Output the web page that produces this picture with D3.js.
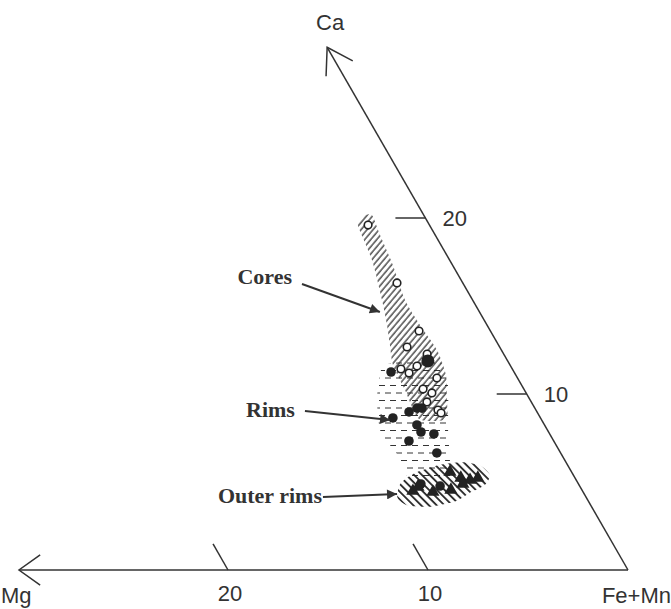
<!DOCTYPE html>
<html>
<head>
<meta charset="utf-8">
<script src="https://cdnjs.cloudflare.com/ajax/libs/d3/7.8.5/d3.min.js"></script>
<style>
  body { margin: 0; background: #fff; }
</style>
</head>
<body>
<div class="canva"></div>
<script>
// data in [Mg, Ca] units
const cores = [[3.07,19.60],[3.29,16.31],[3.57,13.58],[4.63,12.67],[3.83,12.27],[4.68,11.59],
  [5.57,11.42],[5.28,11.19],[4.03,10.91],[5.04,10.28],[4.71,10.06],[5.22,9.55],[4.90,9.09],[4.83,8.92]]
const rims = [[6.15,11.25],[6.40,8.98],[5.89,9.20],[5.64,9.20],[7.38,8.64],[6.38,8.24],
  [6.38,7.84],[5.79,7.73],[7.24,7.33],[6.19,6.65]]
const rimBig = [[3.99,11.88]]
const outerTri = [[8.48,4.49],[8.11,4.72],[7.51,4.43],[6.55,4.55],[6.08,5.57],[5.71,5.23],
  [5.31,5.11],[4.86,5.23],[5.78,4.89]]
const outerDot = [[7.88,4.89],[6.98,4.77]]

// field outlines
const coreField = [[3.14,20.06],[2.59,20.17],[2.76,19.03],[2.98,17.33],[3.38,15.34],[3.35,13.92],
  [3.22,12.5],[3.49,11.08],[4.16,9.66],[4.68,8.64],[5.36,8.47],[6.13,8.64],[5.97,10.23],
  [5.85,11.65],[5.43,12.78],[5.0,13.92],[4.53,15.34],[3.92,17.44],[3.75,18.47],[3.58,19.6]]
const rimField = [[6.25,11.65],[4.61,11.93],[3.42,11.82],[3.68,10.51],[4.97,7.95],[5.74,6.25],
  [6.36,5.23],[8.30,5.34],[8.18,6.36],[8.31,7.10],[8.37,7.95],[7.66,9.66],[6.79,11.08]]
const outerField = [[9.45,4.10],[8.90,4.90],[7.89,5.50],[6.41,5.96],[5.22,6.12],[4.41,5.95],
  [4.17,5.40],[4.71,4.83],[5.66,4.40],[6.64,3.90],[8.03,3.60],[9.15,3.66]]

const labels = ['Cores', 'Rims', 'Outer rims']
const arrowFrom = [[8.07,16.25],[11.58,9.03],[13.15,4.15]]
const arrowTo = [[4.98,14.66],[7.58,8.52],[9.36,4.32]]

const mgTicks = [10, 20]
const caTicks = [10, 20]

const width = 671, height = 609
const ink = '#333'

const svg = d3.select('.canva').append('svg')
  .attr('width', width)
  .attr('height', height)
  .style('font-family', 'Liberation Sans, Arial, sans-serif')

const mg = d3.scaleLinear().domain([0, 30]).range([628, 28])
const ca = d3.scaleLinear().domain([0, 30]).range([570, 42])
const slant = 301 / 523   // horizontal drift of the Ca axis per px of height

const pt = d => [mg(d[0]) - slant * (ca(0) - ca(d[1])), ca(d[1])]

// patterns
const defs = svg.append('defs')
defs.append('pattern').attr('id', 'hatchCore')
  .attr('patternUnits', 'userSpaceOnUse').attr('width', 4.6).attr('height', 10)
  .attr('patternTransform', 'rotate(40)')
  .append('line').attr('x1', 1).attr('y1', 0).attr('x2', 1).attr('y2', 10)
  .attr('stroke', '#222').attr('stroke-width', 1.2)

defs.append('pattern').attr('id', 'hatchOuter')
  .attr('patternUnits', 'userSpaceOnUse').attr('width', 5.5).attr('height', 10)
  .attr('patternTransform', 'rotate(-45)')
  .append('line').attr('x1', 1).attr('y1', 0).attr('x2', 1).attr('y2', 10)
  .attr('stroke', '#222').attr('stroke-width', 1.8)

const dashP = defs.append('pattern').attr('id', 'dashRim')
  .attr('patternUnits', 'userSpaceOnUse').attr('width', 11).attr('height', 15)
dashP.append('line').attr('x1', 0).attr('y1', 3).attr('x2', 6).attr('y2', 3)
  .attr('stroke', ink).attr('stroke-width', 1)
dashP.append('line').attr('x1', 5).attr('y1', 10.5).attr('x2', 11).attr('y2', 10.5)
  .attr('stroke', ink).attr('stroke-width', 1)

const marker = defs.append('marker').attr('id', 'arrowHead')
  .attr('viewBox', '0 0 10 10').attr('refX', 10).attr('refY', 5)
  .attr('markerWidth', 16).attr('markerHeight', 10).attr('markerUnits', 'userSpaceOnUse')
  .attr('orient', 'auto')
marker.append('path').attr('d', 'M0,0 L10,5 L0,10 z').attr('fill', ink)

// fields
const area = d3.line().x(d => pt(d)[0]).y(d => pt(d)[1]).curve(d3.curveCardinalClosed.tension(0.3))
svg.append('path').attr('d', area(rimField)).attr('fill', 'url(#dashRim)')
svg.append('path').attr('d', area(coreField)).attr('fill', 'url(#hatchCore)')
svg.append('path').attr('d', area(outerField)).attr('fill', 'url(#hatchOuter)')

// axes
const axes = svg.append('g').attr('stroke', ink).attr('stroke-width', 1.5).attr('fill', 'none')
const origin = pt([0, 0])
const mgEnd = pt([30.45, 0])
const caEnd = pt([0, 29.7])
axes.append('line').attr('x1', origin[0]).attr('y1', origin[1]).attr('x2', mgEnd[0]).attr('y2', mgEnd[1])
axes.append('line').attr('x1', origin[0]).attr('y1', origin[1]).attr('x2', caEnd[0]).attr('y2', caEnd[1])

function openHead(tip, dir, len, half) {
  const a1 = dir + half, a2 = dir - half
  return `M${tip[0] + len * Math.cos(a1)},${tip[1] + len * Math.sin(a1)}L${tip[0]},${tip[1]}` +
         `L${tip[0] + len * Math.cos(a2)},${tip[1] + len * Math.sin(a2)}`
}
axes.append('path').attr('d', openHead(mgEnd, 0, 26, 0.62))
axes.append('path').attr('d', openHead(caEnd, Math.atan2(origin[1] - caEnd[1], origin[0] - caEnd[0]), 29, 0.56))

const tickLen = 30
const caDir = Math.atan2(caEnd[1] - origin[1], caEnd[0] - origin[0])
mgTicks.forEach(v => {
  const p = pt([v, 0])
  axes.append('line').attr('x1', p[0]).attr('y1', p[1])
    .attr('x2', p[0] + tickLen * Math.cos(caDir)).attr('y2', p[1] + tickLen * Math.sin(caDir))
})
caTicks.forEach(v => {
  const p = pt([0, v])
  axes.append('line').attr('x1', p[0]).attr('y1', p[1]).attr('x2', p[0] - tickLen).attr('y2', p[1])
})

const txt = svg.append('g').attr('fill', ink).style('font-size', '22px')
mgTicks.forEach(v => {
  const p = pt([v, 0])
  txt.append('text').attr('x', p[0] + 2).attr('y', p[1] + 31).attr('text-anchor', 'middle').text(v)
})
caTicks.forEach(v => {
  const p = pt([0, v])
  txt.append('text').attr('x', p[0] + 17).attr('y', p[1] + 8).text(v)
})
txt.append('text').attr('x', caEnd[0] + 3).attr('y', caEnd[1] - 17).attr('text-anchor', 'middle').text('Ca')
txt.append('text').attr('x', 1).attr('y', 603).text('Mg')
txt.append('text').attr('x', 671).attr('y', 603).attr('text-anchor', 'end').text('Fe+Mn')

// points
const pts = svg.append('g')
pts.selectAll('.core').data(cores).join('circle').attr('class', 'core')
  .attr('cx', d => pt(d)[0]).attr('cy', d => pt(d)[1]).attr('r', 3.8)
  .attr('fill', '#fff').attr('stroke', '#222').attr('stroke-width', 1.6)
pts.selectAll('.rim').data(rims.concat(outerDot)).join('circle').attr('class', 'rim')
  .attr('cx', d => pt(d)[0]).attr('cy', d => pt(d)[1]).attr('r', 4.8).attr('fill', '#222')
pts.selectAll('.rimBig').data(rimBig).join('circle').attr('class', 'rimBig')
  .attr('cx', d => pt(d)[0]).attr('cy', d => pt(d)[1]).attr('r', 6.5).attr('fill', '#222')
const tri = d3.symbol().type(d3.symbolTriangle).size(75)
pts.selectAll('.outer').data(outerTri).join('path').attr('class', 'outer')
  .attr('d', tri).attr('transform', d => `translate(${pt(d)[0]},${pt(d)[1]})`).attr('fill', '#222')

// annotations
const labelShift = [[-10, 0], [-10, 6], [-1, 6]]
const ann = svg.append('g')
labels.forEach((name, i) => {
  const a = pt(arrowFrom[i]), b = pt(arrowTo[i])
  ann.append('line').attr('x1', a[0]).attr('y1', a[1]).attr('x2', b[0]).attr('y2', b[1])
    .attr('stroke', ink).attr('stroke-width', 2).attr('marker-end', 'url(#arrowHead)')
  ann.append('text').attr('x', a[0] + labelShift[i][0]).attr('y', a[1] + labelShift[i][1])
    .attr('text-anchor', 'end').attr('fill', ink)
    .style('font-family', 'Liberation Serif, Times New Roman, serif')
    .style('font-weight', 'bold').style('font-size', '22px').text(name)
})
</script>
</body>
</html>
